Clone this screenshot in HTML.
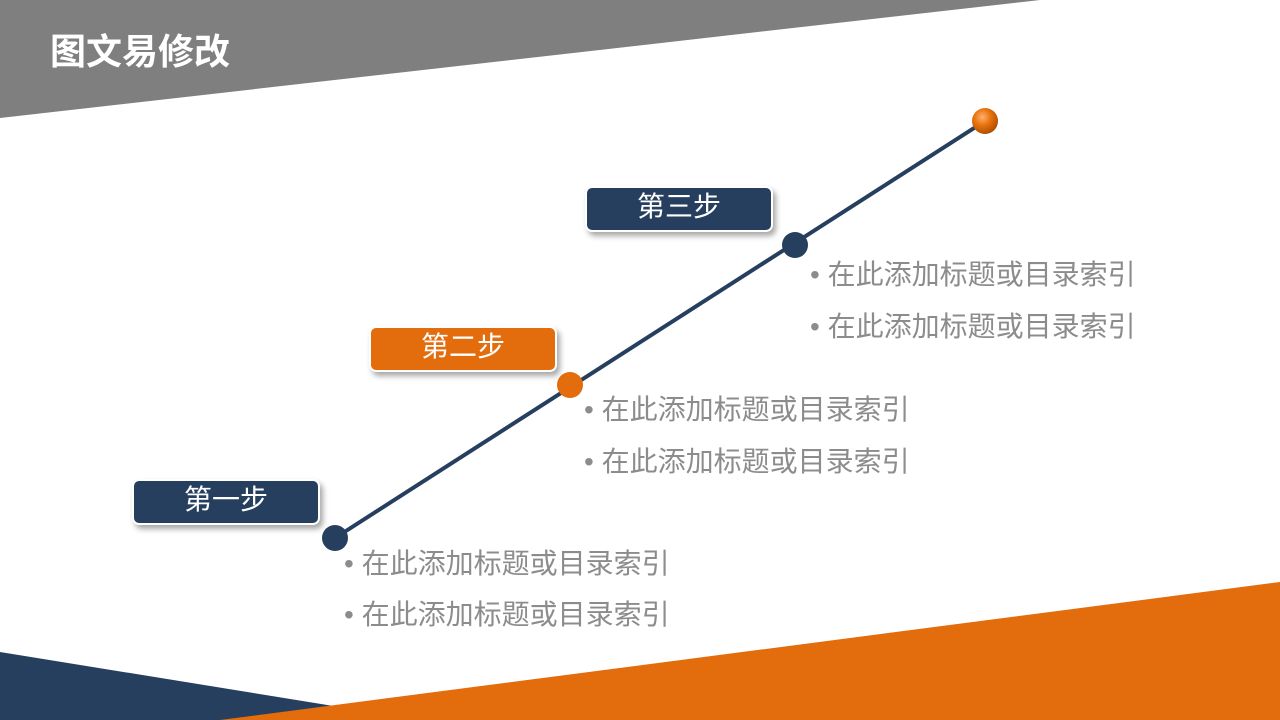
<!DOCTYPE html>
<html><head><meta charset="utf-8"><style>
body{margin:0;width:1280px;height:720px;overflow:hidden;background:#fff;position:relative;font-family:"Liberation Sans","Noto Sans CJK SC",sans-serif}
svg{position:absolute;left:0;top:0}
.t{position:absolute;color:#fff;font-size:36px;font-weight:bold;left:50px;top:23px}
.b{position:absolute;height:42px;width:184px;border:2px solid #fff;border-radius:7px;box-shadow:3px 4px 6px rgba(0,0,0,.35);color:#fff;font-size:28px;text-align:center;line-height:38px}
.l{position:absolute;color:#8c8c8c;font-size:28px;line-height:30px;white-space:nowrap}
</style></head><body>
<svg width="1280" height="720">
<defs><radialGradient id="g" cx="40%" cy="35%" r="65%"><stop offset="0" stop-color="#ffb070"/><stop offset=".5" stop-color="#e8720c"/><stop offset="1" stop-color="#b04f00"/></radialGradient></defs>
<polygon points="0,0 1040,0 0,118" fill="#7f7f7f"/>
<polygon points="0,652 420,720 0,720" fill="#263f5f"/>
<polygon points="1280,582 1280,720 220,720" fill="#e36c0d"/>
<line x1="335" y1="538" x2="985" y2="121" stroke="#263f5f" stroke-width="4"/>
<circle cx="335" cy="538" r="13" fill="#263f5f"/>
<circle cx="570" cy="385" r="13" fill="#e36c0d"/>
<circle cx="795" cy="245" r="13" fill="#263f5f"/>
<circle cx="985" cy="121" r="13" fill="url(#g)"/>
</svg>
<div class="t">图文易修改</div>
<div class="b" style="left:132px;top:479px;background:#263f5f">第一步</div>
<div class="b" style="left:369px;top:326px;background:#e36c0d">第二步</div>
<div class="b" style="left:585px;top:186px;background:#263f5f">第三步</div>
<div class="l" style="left:344px;top:549px">• 在此添加标题或目录索引</div>
<div class="l" style="left:344px;top:600px">• 在此添加标题或目录索引</div>
<div class="l" style="left:584px;top:395px">• 在此添加标题或目录索引</div>
<div class="l" style="left:584px;top:447px">• 在此添加标题或目录索引</div>
<div class="l" style="left:810px;top:260px">• 在此添加标题或目录索引</div>
<div class="l" style="left:810px;top:312px">• 在此添加标题或目录索引</div>
</body></html>
